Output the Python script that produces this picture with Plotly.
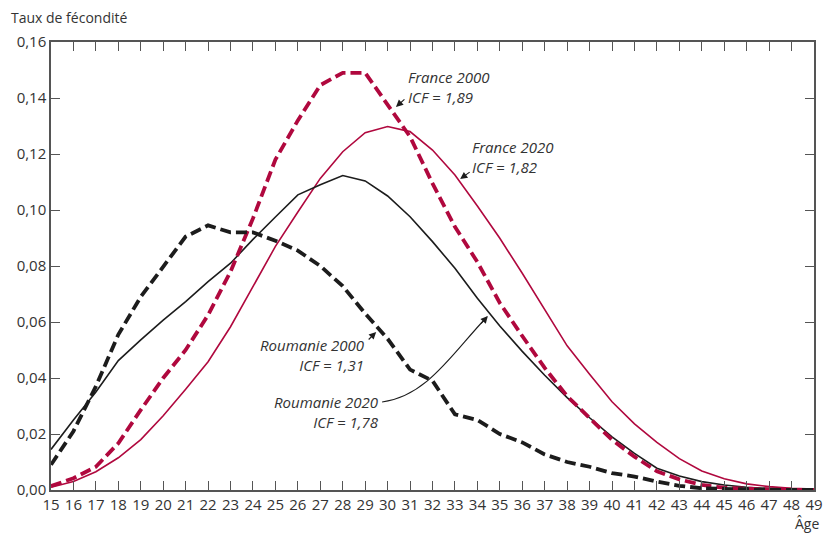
import plotly.graph_objects as go

ages = list(range(15, 50))

roumanie_2000 = [0.009, 0.021, 0.037, 0.0555, 0.069, 0.080, 0.0905, 0.0945, 0.092, 0.092,
                 0.089, 0.0855, 0.080, 0.0728, 0.063, 0.054, 0.043, 0.039, 0.027, 0.025,
                 0.020, 0.017, 0.0127, 0.010, 0.0083, 0.006, 0.0048, 0.003, 0.0015, 0.0006,
                 0.0003, 0.0002, 0.0001, 0.0, 0.0]

roumanie_2020 = [0.0145, 0.025, 0.035, 0.0462, 0.0536, 0.0607, 0.0673, 0.0744, 0.081, 0.0895,
                 0.0975, 0.1054, 0.109, 0.1123, 0.1104, 0.105, 0.0976, 0.0887, 0.0792, 0.0685,
                 0.0586, 0.0495, 0.041, 0.033, 0.0258, 0.019, 0.0131, 0.0078, 0.005, 0.003,
                 0.0018, 0.001, 0.0005, 0.0002, 0.0001]

france_2000 = [0.0014, 0.0042, 0.0083, 0.0167, 0.0286, 0.040, 0.050, 0.0625, 0.078, 0.097,
               0.118, 0.132, 0.1446, 0.149, 0.149, 0.1375, 0.1262, 0.1095, 0.094, 0.0814,
               0.0668, 0.055, 0.0436, 0.0335, 0.0259, 0.0179, 0.0119, 0.0067, 0.0038, 0.0018,
               0.0008, 0.0004, 0.0002, 0.0001, 0.0]

france_2020 = [0.001, 0.003, 0.0065, 0.0115, 0.018, 0.0265, 0.036, 0.0458, 0.0583, 0.0726,
               0.087, 0.0993, 0.1113, 0.1208, 0.1276, 0.1298, 0.128, 0.1214, 0.1125, 0.1014,
               0.0899, 0.0774, 0.0643, 0.0515, 0.0413, 0.0315, 0.0236, 0.017, 0.0112, 0.0068,
               0.004, 0.0022, 0.0012, 0.0006, 0.0003]

y_tickvals = [0.0, 0.02, 0.04, 0.06, 0.08, 0.10, 0.12, 0.14, 0.16]
y_ticktext = ["0,00", "0,02", "0,04", "0,06", "0,08", "0,10", "0,12", "0,14", "0,16"]
x_ticktext = [str(a) for a in ages]

RED = "#B0083E"
BLACK = "#1c1c1c"
TXT = "#333333"
AX = "#555555"
FONT = "Open Sans"

# page body has an 8px margin: figure is shifted by OFF px
OFF = 8
W, H = 832 - OFF, 534 - OFF
# plot area geometry in page pixels (used only to place annotations)
L, R, T, B = 51, 823, 42, 490
def px2x(px):
    return 15 + (px - L) * 34 / (R - L)
def px2y(py):
    return (B - py) * 0.16 / (B - T)

fig = go.Figure()
fig.add_trace(go.Scatter(x=ages, y=france_2020, mode="lines",
                         line=dict(color=RED, width=1.6), name="France 2020"))
fig.add_trace(go.Scatter(x=ages, y=roumanie_2020, mode="lines",
                         line=dict(color=BLACK, width=1.6), name="Roumanie 2020"))
fig.add_trace(go.Scatter(x=ages, y=france_2000, mode="lines",
                         line=dict(color=RED, width=3.8, dash="11px,5px"), name="France 2000"))
fig.add_trace(go.Scatter(x=ages, y=roumanie_2000, mode="lines",
                         line=dict(color=BLACK, width=3.8, dash="11px,5px"), name="Roumanie 2000"))

ann = []
lab_font = dict(family=FONT, size=15, color=TXT)
labels = [
    # text, anchor px x, centre px y, xanchor
    ("France 2000<br>ICF = 1,89", 411, 86.5, "left"),
    ("France 2020<br>ICF = 1,82", 476, 156.5, "left"),
    ("Roumanie 2000<br>ICF = 1,31", 369, 354.5, "right"),
    ("Roumanie 2020<br>ICF = 1,78", 383.5, 411.5, "right"),
]
for txt, xp, yp, xa in labels:
    ann.append(dict(x=px2x(xp), y=px2y(yp), xref="x", yref="y", showarrow=False,
                    text="<i>" + txt + "</i>", xanchor=xa, yanchor="middle", align=xa,
                    borderpad=0, font=lab_font))

# arrows (tip at x,y, tail offset ax, ay in pixels)
arrow_style = dict(showarrow=True, arrowhead=2, arrowsize=1.3, arrowwidth=1.1,
                   arrowcolor=BLACK, text="", xref="x", yref="y", standoff=0, startstandoff=0)
ann.append(dict(x=px2x(400), y=px2y(107), ax=10, ay=-9, **arrow_style))
ann.append(dict(x=px2x(465), y=px2y(179), ax=11, ay=-8, **arrow_style))
ann.append(dict(x=px2x(380), y=px2y(332), ax=-9, ay=9, **arrow_style))
ann.append(dict(x=px2x(493), y=px2y(316), ax=-8, ay=9, **arrow_style))

# axis titles
ann.append(dict(x=(9 - L) / (R - L), y=1 + (T - 17) / (B - T), xref="paper", yref="paper",
                text="Taux de fécondité", showarrow=False, xanchor="left", yanchor="middle",
                font=dict(family=FONT, size=14, color=TXT)))
ann.append(dict(x=(830 - L) / (R - L), y=-(523 - B) / (B - T), xref="paper", yref="paper",
                text="Âge", showarrow=False, xanchor="right", yanchor="middle",
                font=dict(family=FONT, size=14, color=TXT)))

# curved leader line for Roumanie 2020
p0 = (386, 402); c1 = (432, 396); c2 = (458, 352); p3 = (492, 317)
path = "M {} {} C {} {}, {} {}, {} {}".format(
    px2x(p0[0]), px2y(p0[1]), px2x(c1[0]), px2y(c1[1]),
    px2x(c2[0]), px2y(c2[1]), px2x(p3[0]), px2y(p3[1]))
shapes = [dict(type="path", path=path, xref="x", yref="y",
               line=dict(color=BLACK, width=1.1))]

fig.update_layout(
    width=W, height=H,
    margin=dict(l=L - OFF, r=832 - R, t=T - OFF, b=534 - B),
    paper_bgcolor="white", plot_bgcolor="white",
    showlegend=False,
    font=dict(family=FONT, size=14, color=TXT),
    annotations=ann, shapes=shapes,
    xaxis=dict(range=[15, 49], tickmode="array", tickvals=ages, ticktext=x_ticktext,
               ticks="inside", ticklen=9, tickwidth=1.2, tickcolor=AX,
               showline=True, linecolor=AX, linewidth=1.5, mirror="ticks",
               showgrid=False, zeroline=False,
               tickfont=dict(family=FONT, size=15, color=TXT)),
    yaxis=dict(range=[0, 0.16], tickmode="array", tickvals=y_tickvals, ticktext=y_ticktext,
               ticks="inside", ticklen=9, tickwidth=1.2, tickcolor=AX,
               showline=True, linecolor=AX, linewidth=1.5, mirror="ticks",
               showgrid=False, zeroline=False,
               tickfont=dict(family=FONT, size=15, color=TXT)),
)

fig.write_html("out.html")
